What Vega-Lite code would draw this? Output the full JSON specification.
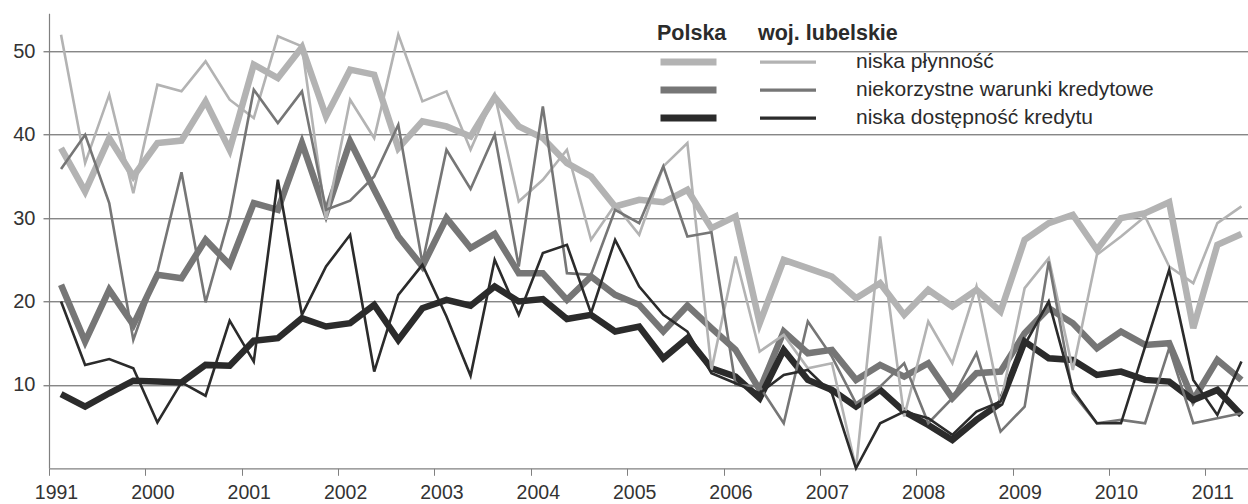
{
"$schema": "https://vega.github.io/schema/vega-lite/v6.json",
"width": 1199, "height": 455,
"autosize": "none",
"padding": {"left": 49, "top": 13.3, "right": 0, "bottom": 35.7},
"background": "white",
"config": {"view": {"stroke": null}, "font": "Liberation Sans"},
"datasets": {
"polska": [
{"t":1999.125,"P niska płynność":38.4,"P niekorzystne warunki kredytowe":22.0,"P niska dostępność kredytu":8.9},
{"t":1999.375,"P niska płynność":33.2,"P niekorzystne warunki kredytowe":15.2,"P niska dostępność kredytu":7.4},
{"t":1999.625,"P niska płynność":39.6,"P niekorzystne warunki kredytowe":21.4,"P niska dostępność kredytu":9.0},
{"t":1999.875,"P niska płynność":35.0,"P niekorzystne warunki kredytowe":17.2,"P niska dostępność kredytu":10.5},
{"t":2000.125,"P niska płynność":39.0,"P niekorzystne warunki kredytowe":23.2,"P niska dostępność kredytu":10.4},
{"t":2000.375,"P niska płynność":39.3,"P niekorzystne warunki kredytowe":22.8,"P niska dostępność kredytu":10.3},
{"t":2000.625,"P niska płynność":44.0,"P niekorzystne warunki kredytowe":27.4,"P niska dostępność kredytu":12.4},
{"t":2000.875,"P niska płynność":38.2,"P niekorzystne warunki kredytowe":24.4,"P niska dostępność kredytu":12.3},
{"t":2001.125,"P niska płynność":48.4,"P niekorzystne warunki kredytowe":31.8,"P niska dostępność kredytu":15.3},
{"t":2001.375,"P niska płynność":46.8,"P niekorzystne warunki kredytowe":31.0,"P niska dostępność kredytu":15.6},
{"t":2001.625,"P niska płynność":50.5,"P niekorzystne warunki kredytowe":39.0,"P niska dostępność kredytu":18.0},
{"t":2001.875,"P niska płynność":42.2,"P niekorzystne warunki kredytowe":30.6,"P niska dostępność kredytu":17.0},
{"t":2002.125,"P niska płynność":47.8,"P niekorzystne warunki kredytowe":39.2,"P niska dostępność kredytu":17.4},
{"t":2002.375,"P niska płynność":47.2,"P niekorzystne warunki kredytowe":33.4,"P niska dostępność kredytu":19.6},
{"t":2002.625,"P niska płynność":38.4,"P niekorzystne warunki kredytowe":27.8,"P niska dostępność kredytu":15.4},
{"t":2002.875,"P niska płynność":41.6,"P niekorzystne warunki kredytowe":24.2,"P niska dostępność kredytu":19.2},
{"t":2003.125,"P niska płynność":41.0,"P niekorzystne warunki kredytowe":30.0,"P niska dostępność kredytu":20.2},
{"t":2003.375,"P niska płynność":39.8,"P niekorzystne warunki kredytowe":26.4,"P niska dostępność kredytu":19.5},
{"t":2003.625,"P niska płynność":44.5,"P niekorzystne warunki kredytowe":28.1,"P niska dostępność kredytu":21.8},
{"t":2003.875,"P niska płynność":41.0,"P niekorzystne warunki kredytowe":23.4,"P niska dostępność kredytu":20.0},
{"t":2004.125,"P niska płynność":39.6,"P niekorzystne warunki kredytowe":23.4,"P niska dostępność kredytu":20.3},
{"t":2004.375,"P niska płynność":36.6,"P niekorzystne warunki kredytowe":20.2,"P niska dostępność kredytu":17.9},
{"t":2004.625,"P niska płynność":35.0,"P niekorzystne warunki kredytowe":23.0,"P niska dostępność kredytu":18.4},
{"t":2004.875,"P niska płynność":31.4,"P niekorzystne warunki kredytowe":20.8,"P niska dostępność kredytu":16.4},
{"t":2005.125,"P niska płynność":32.2,"P niekorzystne warunki kredytowe":19.6,"P niska dostępność kredytu":17.0},
{"t":2005.375,"P niska płynność":31.9,"P niekorzystne warunki kredytowe":16.4,"P niska dostępność kredytu":13.2},
{"t":2005.625,"P niska płynność":33.4,"P niekorzystne warunki kredytowe":19.5,"P niska dostępność kredytu":15.6},
{"t":2005.875,"P niska płynność":28.8,"P niekorzystne warunki kredytowe":16.8,"P niska dostępność kredytu":12.0},
{"t":2006.125,"P niska płynność":30.2,"P niekorzystne warunki kredytowe":14.2,"P niska dostępność kredytu":11.0},
{"t":2006.375,"P niska płynność":17.4,"P niekorzystne warunki kredytowe":9.4,"P niska dostępność kredytu":8.4},
{"t":2006.625,"P niska płynność":25.0,"P niekorzystne warunki kredytowe":16.4,"P niska dostępność kredytu":14.2},
{"t":2006.875,"P niska płynność":24.0,"P niekorzystne warunki kredytowe":13.8,"P niska dostępność kredytu":10.6},
{"t":2007.125,"P niska płynność":23.0,"P niekorzystne warunki kredytowe":14.2,"P niska dostępność kredytu":9.4},
{"t":2007.375,"P niska płynność":20.4,"P niekorzystne warunki kredytowe":10.6,"P niska dostępność kredytu":7.4},
{"t":2007.625,"P niska płynność":22.2,"P niekorzystne warunki kredytowe":12.4,"P niska dostępność kredytu":9.4},
{"t":2007.875,"P niska płynność":18.4,"P niekorzystne warunki kredytowe":11.0,"P niska dostępność kredytu":6.8},
{"t":2008.125,"P niska płynność":21.4,"P niekorzystne warunki kredytowe":12.6,"P niska dostępność kredytu":5.2},
{"t":2008.375,"P niska płynność":19.4,"P niekorzystne warunki kredytowe":8.4,"P niska dostępność kredytu":3.4},
{"t":2008.625,"P niska płynność":21.4,"P niekorzystne warunki kredytowe":11.4,"P niska dostępność kredytu":5.8},
{"t":2008.875,"P niska płynność":18.8,"P niekorzystne warunki kredytowe":11.6,"P niska dostępność kredytu":7.8},
{"t":2009.125,"P niska płynność":27.4,"P niekorzystne warunki kredytowe":16.2,"P niska dostępność kredytu":15.2},
{"t":2009.375,"P niska płynność":29.4,"P niekorzystne warunki kredytowe":19.2,"P niska dostępność kredytu":13.2},
{"t":2009.625,"P niska płynność":30.4,"P niekorzystne warunki kredytowe":17.4,"P niska dostępność kredytu":13.0},
{"t":2009.875,"P niska płynność":26.2,"P niekorzystne warunki kredytowe":14.4,"P niska dostępność kredytu":11.2},
{"t":2010.125,"P niska płynność":30.0,"P niekorzystne warunki kredytowe":16.4,"P niska dostępność kredytu":11.6},
{"t":2010.375,"P niska płynność":30.6,"P niekorzystne warunki kredytowe":14.8,"P niska dostępność kredytu":10.6},
{"t":2010.625,"P niska płynność":31.9,"P niekorzystne warunki kredytowe":15.0,"P niska dostępność kredytu":10.4},
{"t":2010.875,"P niska płynność":16.8,"P niekorzystne warunki kredytowe":8.2,"P niska dostępność kredytu":8.2},
{"t":2011.125,"P niska płynność":26.8,"P niekorzystne warunki kredytowe":13.0,"P niska dostępność kredytu":9.4},
{"t":2011.375,"P niska płynność":28.1,"P niekorzystne warunki kredytowe":10.6,"P niska dostępność kredytu":6.4}
],
"lubelskie": [
{"t":1999.125,"niska płynność":52.0,"niekorzystne warunki kredytowe":35.9,"niska dostępność kredytu":20.0},
{"t":1999.375,"niska płynność":36.6,"niekorzystne warunki kredytowe":40.0,"niska dostępność kredytu":12.4},
{"t":1999.625,"niska płynność":44.8,"niekorzystne warunki kredytowe":31.8,"niska dostępność kredytu":13.1},
{"t":1999.875,"niska płynność":33.0,"niekorzystne warunki kredytowe":15.4,"niska dostępność kredytu":12.0},
{"t":2000.125,"niska płynność":46.0,"niekorzystne warunki kredytowe":23.6,"niska dostępność kredytu":5.5},
{"t":2000.375,"niska płynność":45.2,"niekorzystne warunki kredytowe":35.5,"niska dostępność kredytu":10.3},
{"t":2000.625,"niska płynność":48.8,"niekorzystne warunki kredytowe":19.9,"niska dostępność kredytu":8.7},
{"t":2000.875,"niska płynność":44.2,"niekorzystne warunki kredytowe":30.2,"niska dostępność kredytu":17.7},
{"t":2001.125,"niska płynność":42.0,"niekorzystne warunki kredytowe":45.4,"niska dostępność kredytu":12.8},
{"t":2001.375,"niska płynność":51.8,"niekorzystne warunki kredytowe":41.4,"niska dostępność kredytu":34.6},
{"t":2001.625,"niska płynność":50.6,"niekorzystne warunki kredytowe":45.2,"niska dostępność kredytu":18.4},
{"t":2001.875,"niska płynność":29.8,"niekorzystne warunki kredytowe":31.0,"niska dostępność kredytu":24.2},
{"t":2002.125,"niska płynność":44.2,"niekorzystne warunki kredytowe":32.1,"niska dostępność kredytu":28.0},
{"t":2002.375,"niska płynność":39.6,"niekorzystne warunki kredytowe":35.0,"niska dostępność kredytu":11.6},
{"t":2002.625,"niska płynność":52.0,"niekorzystne warunki kredytowe":41.2,"niska dostępność kredytu":20.8},
{"t":2002.875,"niska płynność":44.0,"niekorzystne warunki kredytowe":24.6,"niska dostępność kredytu":24.4},
{"t":2003.125,"niska płynność":45.2,"niekorzystne warunki kredytowe":38.2,"niska dostępność kredytu":18.2},
{"t":2003.375,"niska płynność":38.2,"niekorzystne warunki kredytowe":33.5,"niska dostępność kredytu":11.1},
{"t":2003.625,"niska płynność":44.8,"niekorzystne warunki kredytowe":40.0,"niska dostępność kredytu":25.0},
{"t":2003.875,"niska płynność":32.0,"niekorzystne warunki kredytowe":24.2,"niska dostępność kredytu":18.4},
{"t":2004.125,"niska płynność":34.6,"niekorzystne warunki kredytowe":43.4,"niska dostępność kredytu":25.8},
{"t":2004.375,"niska płynność":38.2,"niekorzystne warunki kredytowe":23.4,"niska dostępność kredytu":26.8},
{"t":2004.625,"niska płynność":27.4,"niekorzystne warunki kredytowe":23.2,"niska dostępność kredytu":18.6},
{"t":2004.875,"niska płynność":31.6,"niekorzystne warunki kredytowe":31.0,"niska dostępność kredytu":27.4},
{"t":2005.125,"niska płynność":28.0,"niekorzystne warunki kredytowe":29.4,"niska dostępność kredytu":21.8},
{"t":2005.375,"niska płynność":36.2,"niekorzystne warunki kredytowe":36.2,"niska dostępność kredytu":18.4},
{"t":2005.625,"niska płynność":39.0,"niekorzystne warunki kredytowe":27.8,"niska dostępność kredytu":16.4},
{"t":2005.875,"niska płynność":11.8,"niekorzystne warunki kredytowe":28.3,"niska dostępność kredytu":11.4},
{"t":2006.125,"niska płynność":25.4,"niekorzystne warunki kredytowe":10.0,"niska dostępność kredytu":10.2},
{"t":2006.375,"niska płynność":14.0,"niekorzystne warunki kredytowe":9.8,"niska dostępność kredytu":9.0},
{"t":2006.625,"niska płynność":16.0,"niekorzystne warunki kredytowe":5.4,"niska dostępność kredytu":11.2},
{"t":2006.875,"niska płynność":12.0,"niekorzystne warunki kredytowe":17.6,"niska dostępność kredytu":11.8},
{"t":2007.125,"niska płynność":12.6,"niekorzystne warunki kredytowe":13.4,"niska dostępność kredytu":9.0},
{"t":2007.375,"niska płynność":0.0,"niekorzystne warunki kredytowe":7.8,"niska dostępność kredytu":0.0},
{"t":2007.625,"niska płynność":27.8,"niekorzystne warunki kredytowe":9.8,"niska dostępność kredytu":5.4},
{"t":2007.875,"niska płynność":6.2,"niekorzystne warunki kredytowe":12.6,"niska dostępność kredytu":6.8},
{"t":2008.125,"niska płynność":17.6,"niekorzystne warunki kredytowe":5.4,"niska dostępność kredytu":6.0},
{"t":2008.375,"niska płynność":12.6,"niekorzystne warunki kredytowe":8.4,"niska dostępność kredytu":4.0},
{"t":2008.625,"niska płynność":21.8,"niekorzystne warunki kredytowe":13.8,"niska dostępność kredytu":6.8},
{"t":2008.875,"niska płynność":7.8,"niekorzystne warunki kredytowe":4.4,"niska dostępność kredytu":8.0},
{"t":2009.125,"niska płynność":21.6,"niekorzystne warunki kredytowe":7.4,"niska dostępność kredytu":14.8},
{"t":2009.375,"niska płynność":25.2,"niekorzystne warunki kredytowe":24.8,"niska dostępność kredytu":20.0},
{"t":2009.625,"niska płynność":11.8,"niekorzystne warunki kredytowe":9.0,"niska dostępność kredytu":9.4},
{"t":2009.875,"niska płynność":25.6,"niekorzystne warunki kredytowe":5.4,"niska dostępność kredytu":5.4},
{"t":2010.125,"niska płynność":27.8,"niekorzystne warunki kredytowe":5.8,"niska dostępność kredytu":5.4},
{"t":2010.375,"niska płynność":30.2,"niekorzystne warunki kredytowe":5.4,"niska dostępność kredytu":14.6},
{"t":2010.625,"niska płynność":24.2,"niekorzystne warunki kredytowe":14.4,"niska dostępność kredytu":23.8},
{"t":2010.875,"niska płynność":22.2,"niekorzystne warunki kredytowe":5.4,"niska dostępność kredytu":10.6},
{"t":2011.125,"niska płynność":29.4,"niekorzystne warunki kredytowe":6.0,"niska dostępność kredytu":6.4},
{"t":2011.375,"niska płynność":31.4,"niekorzystne warunki kredytowe":6.6,"niska dostępność kredytu":12.8}
]
},
"encoding": {
  "x": {"field": "t", "type": "quantitative",
    "scale": {"domain": [1999, 2011.443], "nice": false, "zero": false},
    "axis": {"title": null, "grid": false,
      "values": [1999,1999.25,1999.5,1999.75,2000,2000.25,2000.5,2000.75,2001,2001.25,2001.5,2001.75,2002,2002.25,2002.5,2002.75,2003,2003.25,2003.5,2003.75,2004,2004.25,2004.5,2004.75,2005,2005.25,2005.5,2005.75,2006,2006.25,2006.5,2006.75,2007,2007.25,2007.5,2007.75,2008,2008.25,2008.5,2008.75,2009,2009.25,2009.5,2009.75,2010,2010.25,2010.5,2010.75,2011,2011.25],
      "format": "d",
      "labelExpr": "datum.value == 1999 ? '1991' : (datum.value % 1 == 0 ? datum.label : '')",
      "labelOverlap": false, "labelFlush": false, "labelBound": false,
      "labelOffset": 7, "labelPadding": 8, "labelFontSize": 19.5, "labelColor": "#333333",
      "tickSize": 7, "tickColor": "#808080", "domainColor": "#808080", "domainWidth": 1.2}
  },
  "y": {"field": "wartosc", "type": "quantitative",
    "scale": {"domain": [0, 54.56], "nice": false},
    "axis": {"title": null, "values": [10, 20, 30, 40, 50], "grid": true, "gridColor": "#555555", "gridWidth": 1,
      "tickSize": 6, "tickColor": "#555555", "domainColor": "#808080", "domainWidth": 1.2,
      "labelPadding": 8, "labelFontSize": 20, "labelColor": "#333333"}
  }
},
"layer": [
  {
    "data": {"name": "polska"},
    "transform": [{"fold": ["P niska płynność", "P niekorzystne warunki kredytowe", "P niska dostępność kredytu"], "as": ["wskaznik_pl", "wartosc"]}],
    "mark": {"type": "line", "strokeWidth": 6.5, "strokeJoin": "miter"},
    "encoding": {
      "color": {"field": "wskaznik_pl", "type": "nominal",
        "scale": {"domain": ["P niska płynność", "P niekorzystne warunki kredytowe", "P niska dostępność kredytu"], "range": ["#b3b3b3", "#767676", "#2b2b2b"]},
        "legend": {"title": "Polska", "orient": "none", "legendX": 608, "legendY": 9.5, "direction": "vertical",
          "padding": 0, "symbolType": "stroke", "symbolSize": 3136, "symbolStrokeWidth": 7,
          "labelExpr": "''", "clipHeight": 27.5, "rowPadding": 0, "titleLimit": 400,
          "titleFontSize": 21.5, "titleFontWeight": "bold", "titleColor": "#2b2b2b", "titlePadding": 4}
      }
    }
  },
  {
    "data": {"name": "lubelskie"},
    "transform": [{"fold": ["niska płynność", "niekorzystne warunki kredytowe", "niska dostępność kredytu"], "as": ["wskaznik_lub", "wartosc"]}],
    "mark": {"type": "line", "strokeWidth": 2.6, "strokeJoin": "miter"},
    "encoding": {
      "stroke": {"field": "wskaznik_lub", "type": "nominal",
        "scale": {"domain": ["niska płynność", "niekorzystne warunki kredytowe", "niska dostępność kredytu"], "range": ["#b3b3b3", "#767676", "#2b2b2b"]},
        "legend": {"title": "woj. lubelskie", "orient": "none", "legendX": 709, "legendY": 9.5, "direction": "vertical",
          "padding": 0, "symbolType": "stroke", "symbolSize": 3136, "symbolStrokeWidth": 3.3,
          "clipHeight": 27.5, "rowPadding": 0, "labelOffset": 38, "labelFontSize": 21, "labelColor": "#2b2b2b", "labelLimit": 600, "titleLimit": 400,
          "titleFontSize": 21.5, "titleFontWeight": "bold", "titleColor": "#2b2b2b", "titlePadding": 4}
      }
    }
  }
]
}
